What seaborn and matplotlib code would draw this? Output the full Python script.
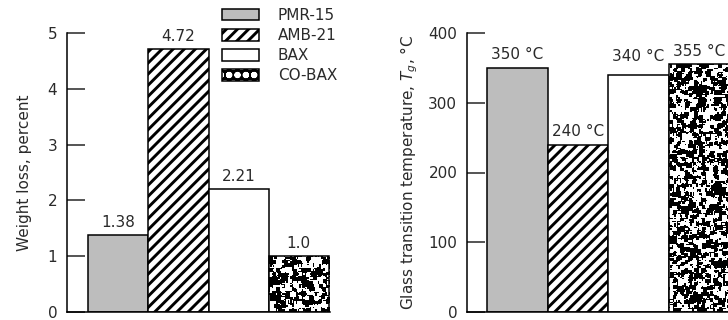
import numpy as np
import pandas as pd
import seaborn as sns
import matplotlib
import matplotlib.pyplot as plt
from matplotlib.patches import Patch

materials = ['PMR-15', 'AMB-21', 'BAX', 'CO-BAX']
weight_loss = [1.38, 4.72, 2.21, 1.0]
weight_labels = ['1.38', '4.72', '2.21', '1.0']
tg = [350, 240, 340, 355]
tg_labels = ['350 °C', '240 °C', '340 °C', '355 °C']
fills = ['#bdbdbd', 'white', 'white', 'white']
hatches = ['', '///', '', '']

sns.set_style('white')
plt.rcParams['font.family'] = ['DejaVu Sans']
plt.rcParams['mathtext.fontset'] = 'dejavusans'
plt.rcParams['hatch.linewidth'] = 2.1
plt.rcParams['hatch.color'] = 'black'
ink = '#2a2a2a'
fs = 11

fig = plt.figure(figsize=(7.28, 3.2), dpi=100)
ax1 = fig.add_axes([67 / 728, 8 / 320, 263 / 728, 279 / 320])
ax2 = fig.add_axes([467 / 728, 8 / 320, 261 / 728, 279 / 320])

df1 = pd.DataFrame({'material': materials, 'value': weight_loss})
df2 = pd.DataFrame({'material': materials, 'value': tg})


def speckle(ax, patch, seed):
    # black/white blob texture used as the CO-BAX fill pattern
    fig.canvas.draw()
    x0, w, h = patch.get_x(), patch.get_width(), patch.get_height()
    p0 = ax.transData.transform((x0, 0))
    p1 = ax.transData.transform((x0 + w, h))
    nx = max(int(abs(p1[0] - p0[0]) / 1.3), 4)
    ny = max(int(abs(p1[1] - p0[1]) / 1.3), 4)
    rng = np.random.default_rng(seed)
    f = rng.random((ny + 2, nx + 2))
    g = sum(np.roll(np.roll(f, i, 0), j, 1) for i in (-1, 0, 1) for j in (-1, 0, 1))
    g = g[1:-1, 1:-1]
    tex = (g > np.quantile(g, 0.55)).astype(float)
    xl, yl = ax.get_xlim(), ax.get_ylim()
    im = ax.imshow(tex, extent=(x0, x0 + w, 0, h), cmap='gray', vmin=0, vmax=1,
                   interpolation='nearest', aspect='auto', zorder=2)
    im.set_clip_path(patch)
    patch.set_facecolor('none')
    patch.set_zorder(3)
    ax.set_xlim(xl)
    ax.set_ylim(yl)


panels = [
    (ax1, df1, weight_labels, (0, 5), [0, 1, 2, 3, 4, 5], (-0.85, 3.517), 'Weight loss, percent', 0.09, 11),
    (ax2, df2, tg_labels, (0, 400), [0, 100, 200, 300, 400], (-0.83, 3.477),
     'Glass transition temperature, $T_g$, °C', 8, 6),
]

for k, (ax, df, labels, ylim, yticks, xlim, ylabel, off, lpad) in enumerate(panels):
    sns.barplot(data=df, x='material', y='value', hue='material', palette=fills,
                width=1, edgecolor='black', linewidth=1.1, legend=False, ax=ax)
    for patch, hatch in zip(ax.patches, hatches):
        patch.set_hatch(hatch)
    ax.set_xlim(xlim)
    ax.set_ylim(ylim)
    ax.set_yticks(yticks)
    ax.set_xticks([])
    ax.set_xlabel('')
    ax.set_ylabel(ylabel, fontsize=fs, color=ink, labelpad=lpad)
    ax.tick_params(axis='y', direction='in', length=13, width=1.1, pad=7,
                   labelsize=fs, labelcolor=ink, left=True)
    for side in ['top', 'right']:
        ax.spines[side].set_visible(False)
    for side in ['left', 'bottom']:
        ax.spines[side].set_linewidth(1.1)
        ax.spines[side].set_color('black')
    for i, (v, lab) in enumerate(zip(df['value'], labels)):
        dy = off * 1.9 if (k == 1 and i == 2) else off
        ax.text(i, v + dy, lab, ha='center', va='bottom', fontsize=fs, color=ink)
    ax.set_facecolor('white')
    speckle(ax, ax.patches[3], 7 + k)

handles = [
    Patch(facecolor='#bdbdbd', edgecolor='black', linewidth=1.1),
    Patch(facecolor='white', edgecolor='black', linewidth=1.1, hatch='///'),
    Patch(facecolor='white', edgecolor='black', linewidth=1.1),
    Patch(facecolor='black', edgecolor='black', linewidth=1.1, hatch='oo'),
]
handles[3]._hatch_color = (1, 1, 1, 1)
leg = fig.legend(handles, materials, loc='upper left', bbox_to_anchor=(222 / 728, 1 - 8 / 320),
                 frameon=False, fontsize=fs, handlelength=2.42, handleheight=0.79,
                 labelspacing=0.33, handletextpad=1.24, borderpad=0, borderaxespad=0)
for t in leg.get_texts():
    t.set_color(ink)

fig.savefig('out.png', dpi=100, facecolor='white')
